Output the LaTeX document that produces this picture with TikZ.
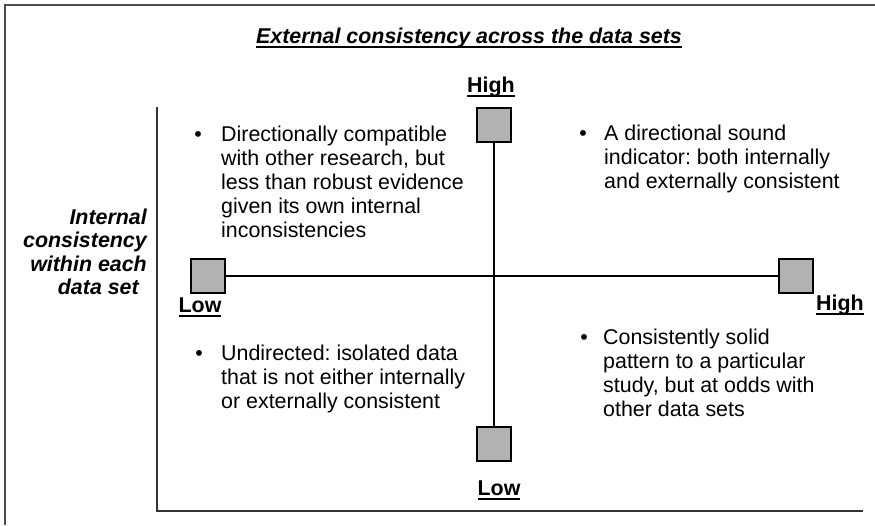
\documentclass[tikz,border=0pt]{standalone}
\usepackage{fontspec}
\setmainfont{Liberation Sans}
\usetikzlibrary{positioning}
\frenchspacing

\newcommand\undl[1]{\setbox0\hbox{#1}\rlap{\rule[-5pt]{\wd0}{1.8pt}}\box0}

\tikzset{
	txt/.style={font=\fontsize{21.4}{24}\selectfont, inner sep=0pt},
	axlabel/.style={txt, font=\fontsize{21.4}{24}\selectfont\bfseries, anchor=base},
	quad/.style={txt, align=left, anchor=base west},
	bul/.style={txt, anchor=base},
	mark box/.style={draw, line width=1.3pt, fill=black!30, minimum size=34pt, inner sep=0pt},
	frame/.style={line width=2pt, color=black!70},
	rim/.style={line width=1.5pt, color=black!80},
	axis/.style={line width=1.1pt}
}

\begin{document}
\begin{tikzpicture}[x=1pt, y=-1pt]
		%%%%% START %%%%%
		\useasboundingbox (0,0) rectangle (875,525);
		
		\draw[frame] (5,525) -- (5,5) -- (875,5);
		\draw[rim] (157,107) -- (157,511) -- (863,511);
		
		\node[txt, anchor=base, font=\fontsize{21.4}{24}\selectfont\bfseries\itshape] (title) at (469,43) {\undl{External consistency across the data sets}};
		
		% multi-line nodes sit on the baseline of their last line
		\node[txt, align=right, anchor=base east, font=\fontsize{21.4}{23.5}\selectfont\bfseries\itshape] (internal) at (147,294.5) {Internal\\consistency\\within each\\data set\hspace*{8pt}};
		
		% marker boxes
		\node[mark box] (xlow) at (208,276) {};
		\node[mark box] (xhigh) at (796,276) {};
		\node[mark box] (ytop) at (494,125) {};
		\node[mark box] (ybot) at (494,444) {};
		
		\draw[axis] (xlow) -- (xhigh);
		\draw[axis] (ytop) -- (ybot);
		
		\node[axlabel] (ytoplab) at (491,92) {\undl{High}};
		\node[axlabel] (ybotlab) at (499,495) {\undl{Low}};
		\node[axlabel] (xlowlab) at (200,312) {\undl{Low}};
		\node[axlabel] (xhighlab) at (840,310) {\undl{High}};
		
		% quadrants
		\node[bul] (tlb) at (198,141) {\textbullet};
		\node[quad] (tl) at (221,237) {Directionally compatible\\with other research, but\\less than robust evidence\\given its own internal\\inconsistencies};
		
		\node[bul] (trb) at (583,140) {\textbullet};
		\node[quad] (tr) at (604,188) {A directional sound\\indicator: both internally\\and externally consistent};
		
		\node[bul] (blb) at (199,360) {\textbullet};
		\node[quad] (bl) at (221,408) {Undirected: isolated data\\that is not either internally\\or externally consistent};
		
		\node[bul] (brb) at (584,344) {\textbullet};
		\node[quad] (br) at (603,416) {Consistently solid\\pattern to a particular\\study, but at odds with\\other data sets};
		
		%%%%% END %%%%%
\end{tikzpicture}
\end{document}
